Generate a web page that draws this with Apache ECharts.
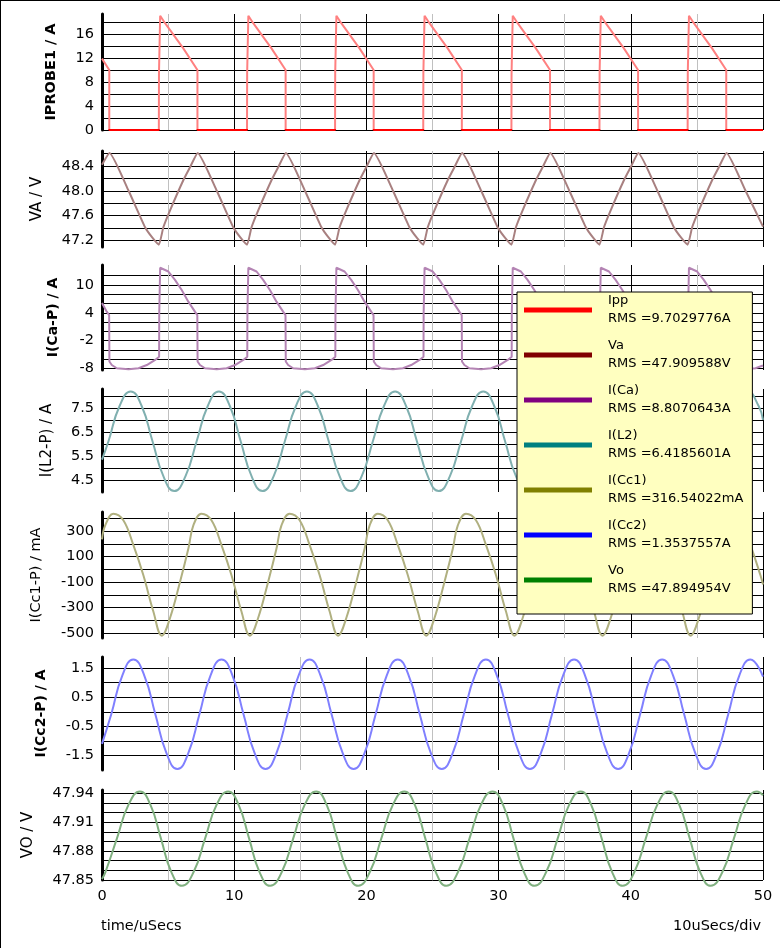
<!DOCTYPE html>
<html>
<head>
<meta charset="utf-8">
<title>Transient waveforms</title>
<script src="https://cdn.jsdelivr.net/npm/echarts@6/dist/echarts.min.js"></script>
<style>
  html, body { margin: 0; padding: 0; background: #fff; }
  #chart { width: 780px; height: 948px; }
</style>
</head>
<body>
<div id="chart"></div>
<script>
// ---- data: [time in uSecs, value] ----
var ippData = [[0,11.9],[0.55,10.0],[0.55,0],
  [4.30,0],[4.31,9.45],[4.40,19.05],[4.77,17.8],[6.15,13.6],[7.22,10.0],[7.22,0],
  [10.97,0],[10.98,9.45],[11.07,19.05],[11.44,17.8],[12.82,13.6],[13.89,10.0],[13.89,0],
  [17.63,0],[17.64,9.45],[17.73,19.05],[18.10,17.8],[19.48,13.6],[20.55,10.0],[20.55,0],
  [24.30,0],[24.31,9.45],[24.40,19.05],[24.77,17.8],[26.15,13.6],[27.22,10.0],[27.22,0],
  [30.97,0],[30.98,9.45],[31.07,19.05],[31.44,17.8],[32.82,13.6],[33.89,10.0],[33.89,0],
  [37.63,0],[37.64,9.45],[37.73,19.05],[38.10,17.8],[39.48,13.6],[40.55,10.0],[40.55,0],
  [44.30,0],[44.31,9.45],[44.40,19.05],[44.77,17.8],[46.15,13.6],[47.22,10.0],[47.22,0],[50,0]];

var vaData = [[0,48.42],[0.57,48.61],[2.01,48.0],[3.26,47.41],[3.78,47.25],
  [4.30,47.13],[4.64,47.41],[5.14,47.68],[6.15,48.17],[6.66,48.38],[7.24,48.61],[8.68,48.0],[9.93,47.41],[10.45,47.25],
  [10.97,47.13],[11.31,47.41],[11.81,47.68],[12.82,48.17],[13.33,48.38],[13.91,48.61],[15.35,48.0],[16.60,47.41],[17.12,47.25],
  [17.63,47.13],[17.97,47.41],[18.47,47.68],[19.48,48.17],[19.99,48.38],[20.57,48.61],[22.01,48.0],[23.26,47.41],[23.78,47.25],
  [24.30,47.13],[24.64,47.41],[25.14,47.68],[26.15,48.17],[26.66,48.38],[27.24,48.61],[28.68,48.0],[29.93,47.41],[30.45,47.25],
  [30.97,47.13],[31.31,47.41],[31.81,47.68],[32.82,48.17],[33.33,48.38],[33.91,48.61],[35.35,48.0],[36.60,47.41],[37.12,47.25],
  [37.63,47.13],[37.97,47.41],[38.47,47.68],[39.48,48.17],[39.99,48.38],[40.57,48.61],[42.01,48.0],[43.26,47.41],[43.78,47.25],
  [44.30,47.13],[44.64,47.41],[45.14,47.68],[46.15,48.17],[46.66,48.38],[47.24,48.61],[48.68,48.0],[50,47.42]];

var icaData = [[0,6.1],[0.36,4.25],[0.54,3.5],[0.56,-6.5],[0.74,-7.25],[1.12,-7.95],[2.01,-8.17],[2.76,-7.95],[3.39,-7.25],[4.02,-6.16],
  [4.32,-5.45],[4.33,3.9],[4.40,13.7],[5.02,12.9],[5.52,11.1],[6.03,8.9],[6.53,6.4],[7.03,4.25],[7.21,3.5],[7.23,-6.5],[7.41,-7.25],[7.79,-7.95],[8.68,-8.17],[9.43,-7.95],[10.06,-7.25],[10.69,-6.16],
  [10.99,-5.45],[11.0,3.9],[11.07,13.7],[11.69,12.9],[12.19,11.1],[12.70,8.9],[13.20,6.4],[13.70,4.25],[13.88,3.5],[13.90,-6.5],[14.08,-7.25],[14.46,-7.95],[15.35,-8.17],[16.10,-7.95],[16.73,-7.25],[17.36,-6.16],
  [17.65,-5.45],[17.66,3.9],[17.73,13.7],[18.35,12.9],[18.85,11.1],[19.36,8.9],[19.86,6.4],[20.36,4.25],[20.54,3.5],[20.56,-6.5],[20.74,-7.25],[21.12,-7.95],[22.01,-8.17],[22.76,-7.95],[23.39,-7.25],[24.02,-6.16],
  [24.32,-5.45],[24.33,3.9],[24.40,13.7],[25.02,12.9],[25.52,11.1],[26.03,8.9],[26.53,6.4],[27.03,4.25],[27.21,3.5],[27.23,-6.5],[27.41,-7.25],[27.79,-7.95],[28.68,-8.17],[29.43,-7.95],[30.06,-7.25],[30.69,-6.16],
  [30.99,-5.45],[31.0,3.9],[31.07,13.7],[31.69,12.9],[32.19,11.1],[32.70,8.9],[33.20,6.4],[33.70,4.25],[33.88,3.5],[33.90,-6.5],[34.08,-7.25],[34.46,-7.95],[35.35,-8.17],[36.10,-7.95],[36.73,-7.25],[37.36,-6.16],
  [37.65,-5.45],[37.66,3.9],[37.73,13.7],[38.35,12.9],[38.85,11.1],[39.36,8.9],[39.86,6.4],[40.36,4.25],[40.54,3.5],[40.56,-6.5],[40.74,-7.25],[41.12,-7.95],[42.01,-8.17],[42.76,-7.95],[43.39,-7.25],[44.02,-6.16],
  [44.32,-5.45],[44.33,3.9],[44.40,13.7],[45.02,12.9],[45.52,11.1],[46.03,8.9],[46.53,6.4],[47.03,4.25],[47.21,3.5],[47.23,-6.5],[47.41,-7.25],[47.79,-7.95],[48.68,-8.17],[49.43,-7.95],[50,-7.35]];

var il2Data = [[0,5.35],[0.49,6.115],[1.33,7.575],[2.17,8.18],[3.0,7.575],[3.82,6.115],[4.65,4.655],[5.47,4.05],
  [6.31,4.655],[7.16,6.115],[8.0,7.575],[8.84,8.18],[9.67,7.575],[10.49,6.115],[11.32,4.655],[12.14,4.05],
  [12.98,4.655],[13.83,6.115],[14.67,7.575],[15.5,8.18],[16.33,7.575],[17.15,6.115],[17.98,4.655],[18.8,4.05],
  [19.64,4.655],[20.49,6.115],[21.33,7.575],[22.17,8.18],[23.0,7.575],[23.82,6.115],[24.65,4.655],[25.47,4.05],
  [26.31,4.655],[27.16,6.115],[28.0,7.575],[28.84,8.18],[29.67,7.575],[30.49,6.115],[31.32,4.655],[32.14,4.05],
  [32.98,4.655],[33.83,6.115],[34.67,7.575],[35.51,8.18],[36.34,7.575],[37.16,6.115],[37.99,4.655],[38.81,4.05],
  [39.65,4.655],[40.5,6.115],[41.34,7.575],[42.17,8.18],[43.0,7.575],[43.82,6.115],[44.65,4.655],[45.47,4.05],
  [46.31,4.655],[47.16,6.115],[48.0,7.575],[48.84,8.18],[49.67,7.575],[50,7.0]];

var icc1Data = [[0,235],[0.25,347],
  [0.855,438],[1.615,386],[2.375,190],[3.125,-45],[3.885,-332],[4.525,-522],[5.145,-383],[5.905,-97],[6.535,164],[6.915,347],
  [7.52,438],[8.28,386],[9.04,190],[9.79,-45],[10.55,-332],[11.19,-522],[11.81,-383],[12.57,-97],[13.20,164],[13.58,347],
  [14.19,438],[14.95,386],[15.71,190],[16.46,-45],[17.22,-332],[17.86,-522],[18.48,-383],[19.24,-97],[19.87,164],[20.25,347],
  [20.86,438],[21.62,386],[22.38,190],[23.13,-45],[23.89,-332],[24.53,-522],[25.15,-383],[25.91,-97],[26.54,164],[26.92,347],
  [27.53,438],[28.29,386],[29.05,190],[29.80,-45],[30.56,-332],[31.20,-522],[31.82,-383],[32.58,-97],[33.21,164],[33.59,347],
  [34.19,438],[34.95,386],[35.71,190],[36.46,-45],[37.22,-332],[37.86,-522],[38.48,-383],[39.24,-97],[39.87,164],[40.25,347],
  [40.86,438],[41.62,386],[42.38,190],[43.13,-45],[43.89,-332],[44.53,-522],[45.15,-383],[45.91,-97],[46.54,164],[46.92,347],
  [47.53,438],[48.29,386],[49.05,190],[49.80,-45],[50,-120]];

var icc2Data = [[0,-1.1],[0.70,-0.085],[1.535,1.24],[2.37,1.79],[3.2,1.24],[4.035,-0.085],[4.87,-1.41],[5.70,-1.96],
  [6.535,-1.41],[7.37,-0.085],[8.205,1.24],[9.04,1.79],[9.87,1.24],[10.705,-0.085],[11.54,-1.41],[12.37,-1.96],
  [13.205,-1.41],[14.035,-0.085],[14.87,1.24],[15.70,1.79],[16.53,1.24],[17.365,-0.085],[18.2,-1.41],[19.03,-1.96],
  [19.865,-1.41],[20.70,-0.085],[21.535,1.24],[22.37,1.79],[23.2,1.24],[24.035,-0.085],[24.87,-1.41],[25.70,-1.96],
  [26.535,-1.41],[27.37,-0.085],[28.205,1.24],[29.04,1.79],[29.87,1.24],[30.705,-0.085],[31.54,-1.41],[32.37,-1.96],
  [33.205,-1.41],[34.04,-0.085],[34.875,1.24],[35.71,1.79],[36.54,1.24],[37.375,-0.085],[38.21,-1.41],[39.04,-1.96],
  [39.875,-1.41],[40.705,-0.085],[41.54,1.24],[42.37,1.79],[43.2,1.24],[44.035,-0.085],[44.87,-1.41],[45.70,-1.96],
  [46.535,-1.41],[47.37,-0.085],[48.205,1.24],[49.04,1.79],[50,1.2]];

var voData = [[0,47.851],[0.25,47.858],[1.125,47.893],[2.0,47.928],[2.87,47.942],[3.665,47.928],[4.46,47.893],[5.255,47.858],[6.05,47.844],
  [6.92,47.858],[7.795,47.893],[8.665,47.928],[9.54,47.942],[10.335,47.928],[11.13,47.893],[11.925,47.858],[12.72,47.844],
  [13.59,47.858],[14.46,47.893],[15.33,47.928],[16.20,47.942],[16.995,47.928],[17.79,47.893],[18.585,47.858],[19.38,47.844],
  [20.25,47.858],[21.125,47.893],[22.0,47.928],[22.87,47.942],[23.665,47.928],[24.46,47.893],[25.255,47.858],[26.05,47.844],
  [26.92,47.858],[27.795,47.893],[28.665,47.928],[29.54,47.942],[30.335,47.928],[31.13,47.893],[31.925,47.858],[32.72,47.844],
  [33.59,47.858],[34.465,47.893],[35.335,47.928],[36.21,47.942],[37.005,47.928],[37.80,47.893],[38.595,47.858],[39.39,47.844],
  [40.26,47.858],[41.13,47.893],[42.0,47.928],[42.87,47.942],[43.665,47.928],[44.46,47.893],[45.255,47.858],[46.05,47.844],
  [46.92,47.858],[47.795,47.893],[48.665,47.928],[49.54,47.942],[50,47.938]];

var seriesData = [ippData, vaData, icaData, il2Data, icc1Data, icc2Data, voData];
var seriesNames = ['Ipp', 'Va', 'I(Ca)', 'I(L2)', 'I(Cc1)', 'I(Cc2)', 'Vo'];
var rmsText = ['9.7029776A', '47.909588V', '8.8070643A', '6.4185601A', '316.54022mA', '1.3537557A', '47.894954V'];

// ---- axes: names, ranges, grid lines and tick labels ----
var axisNames = ['IPROBE1 / A', 'VA / V', 'I(Ca-P) / A', 'I(L2-P) / A', 'I(Cc1-P) / mA', 'I(Cc2-P) / A', 'VO / V'];
var yMin = [0, 47.092, -8.32, 4.01, -540, -1.993, 47.85];
var yMax = [19.33, 48.642, 14.3, 8.28, 451, 1.874, 47.9435];
var yGridValues = [
  [0, 2, 4, 6, 8, 10, 12, 14, 16, 18],
  [47.2, 47.4, 47.6, 47.8, 48.0, 48.2, 48.4, 48.6],
  [-8, -6, -4, -2, 0, 2, 4, 6, 8, 10, 12],
  [4.5, 5.0, 5.5, 6.0, 6.5, 7.0, 7.5, 8.0],
  [-500, -400, -300, -200, -100, 0, 100, 200, 300, 400],
  [-1.5, -1.0, -0.5, 0, 0.5, 1.0, 1.5],
  [47.85, 47.86, 47.87, 47.88, 47.89, 47.90, 47.91, 47.92, 47.93, 47.94]
];
var yLabelValues = [
  [0, 4, 8, 12, 16],
  [47.2, 47.6, 48.0, 48.4],
  [-8, -2, 4, 10],
  [4.5, 5.5, 6.5, 7.5],
  [-500, -300, -100, 100, 300],
  [-1.5, -0.5, 0.5, 1.5],
  [47.85, 47.88, 47.91, 47.94]
];
var yDecimals = [0, 1, 0, 1, 0, 1, 2];
var xLabelValues = [0, 10, 20, 30, 40, 50];

// ---- layout and style ----
var FONT = "'DejaVu Sans', sans-serif";
var panelTop = [14, 151, 265, 389, 512, 657, 790];
var panelHeight = [116, 96, 105, 103, 126, 113, 90];
var nameGap = [43, 57, 42, 47, 58, 54, 66];
var nameBold = [true, false, true, false, false, true, false];
var nameSize = [14.5, 15, 14, 15, 14.5, 14, 15];
var traceColor = ['#ff8080', '#a88080', '#b484b4', '#80b0b0', '#b0b080', '#8080ff', '#80b080'];
var legendColor = ['#ff0000', '#800000', '#800080', '#008080', '#808000', '#0000ff', '#008000'];
var traceSmooth = [false, 0.15, false, 0.5, 0.4, 0.5, 0.5];

// the probe current sits on zero in full red, its edges in the pale trace colour
var ippStroke = {
  type: 'linear', x: 0, y: 0, x2: 0, y2: 1,
  colorStops: [
    { offset: 0, color: '#ff8080' }, { offset: 0.97, color: '#ff8080' },
    { offset: 0.97, color: '#ff0000' }, { offset: 1, color: '#ff0000' }
  ]
};

var grids = [], xAxes = [], yAxes = [], series = [];
for (var i = 0; i < 7; i++) {
  grids.push({ left: 102, width: 661, top: panelTop[i], height: panelHeight[i], outerBoundsMode: 'none' });
  xAxes.push({
    type: 'value', gridIndex: i, min: 0, max: 50, interval: 5,
    axisLine: { show: false }, axisTick: { show: false },
    axisLabel: {
      show: i === 6, customValues: xLabelValues, margin: 9,
      fontFamily: FONT, fontSize: 14.5, color: '#000'
    },
    splitLine: { show: true, lineStyle: { color: ['#000000', '#c0c0c0'], width: 1 } }
  });
  (function (d) {
    yAxes.push({
      type: 'value', gridIndex: i, min: yMin[i], max: yMax[i],
      name: axisNames[i], nameLocation: 'middle', nameGap: nameGap[i], nameRotate: 90,
      nameTextStyle: {
        fontFamily: FONT, fontSize: nameSize[i],
        fontWeight: nameBold[i] ? 'bold' : 'normal', color: '#000'
      },
      axisLine: { show: true, lineStyle: { color: '#000', width: 3 } },
      axisTick: { show: false, customValues: yGridValues[i] },
      axisLabel: {
        customValues: yLabelValues[i], margin: 8,
        fontFamily: FONT, fontSize: 14.5, color: '#000',
        formatter: function (v) { return v.toFixed(d); }
      },
      splitLine: { show: true, lineStyle: { color: '#000', width: 1 } }
    });
  })(yDecimals[i]);
  series.push({
    name: seriesNames[i], type: 'line', xAxisIndex: i, yAxisIndex: i,
    data: seriesData[i], showSymbol: false, symbol: 'none',
    smooth: traceSmooth[i], clip: false, color: traceColor[i],
    lineStyle: { color: i === 0 ? ippStroke : traceColor[i], width: 2 }
  });
}

var myChart = echarts.init(document.getElementById('chart'));
var option = {
  animation: false,
  backgroundColor: '#fff',
  grid: grids, xAxis: xAxes, yAxis: yAxes, series: series,
  title: [
    { text: 'time/uSecs', left: 101, top: 919, padding: 0,
      textStyle: { fontFamily: FONT, fontSize: 14.5, fontWeight: 'normal', color: '#000' } },
    { text: '10uSecs/div', right: 19, top: 919, padding: 0,
      textStyle: { fontFamily: FONT, fontSize: 14.5, fontWeight: 'normal', color: '#000' } }
  ],
  legend: {
    orient: 'vertical', left: 517, top: 292, padding: [0, 9, 16, 7],
    icon: 'rect', itemWidth: 68, itemHeight: 5, itemGap: 9,
    backgroundColor: '#ffffc0', borderColor: '#000', borderWidth: 1,
    selectedMode: false,
    data: seriesNames.map(function (n, k) {
      return { name: n, itemStyle: { color: legendColor[k], borderWidth: 0 } };
    }),
    formatter: function (name) {
      return name + '\nRMS =' + rmsText[seriesNames.indexOf(name)];
    },
    textStyle: {
      fontFamily: FONT, fontSize: 13, color: '#000', lineHeight: 18, padding: [0, 0, 0, 11]
    }
  },
  graphic: [
    { type: 'line', shape: { x1: 0.5, y1: 0, x2: 0.5, y2: 948 }, style: { stroke: '#000', lineWidth: 1 } },
    { type: 'line', shape: { x1: 0, y1: 0.5, x2: 780, y2: 0.5 }, style: { stroke: '#000', lineWidth: 1 } }
  ]
};
myChart.setOption(option);
</script>
</body>
</html>
